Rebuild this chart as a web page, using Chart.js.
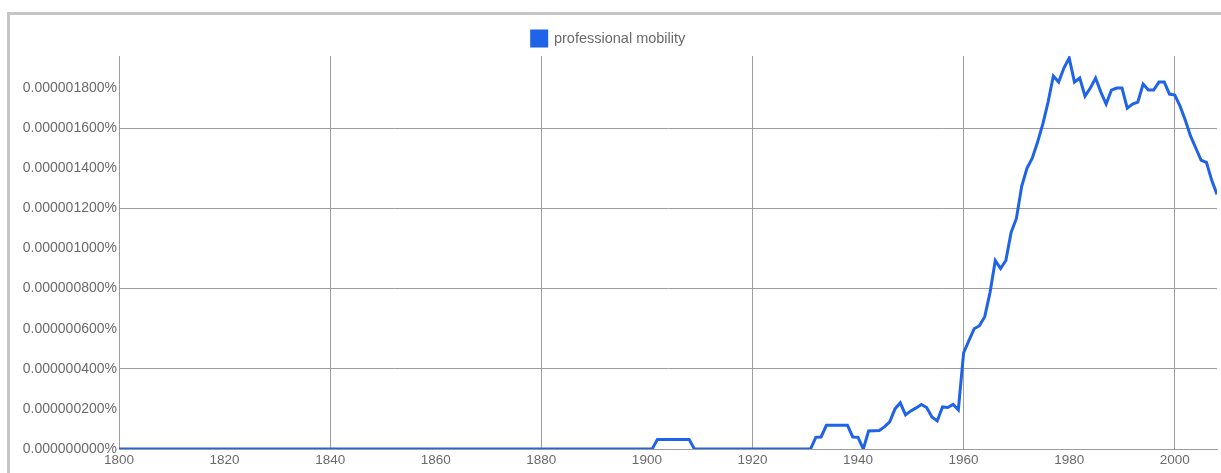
<!DOCTYPE html>
<html>
<head>
<meta charset="utf-8">
<script src="https://cdn.jsdelivr.net/npm/chart.js@4.4.1/dist/chart.umd.min.js"></script>
<style>
  html, body { margin: 0; padding: 0; background: #fff; }
  #wrap { position: relative; width: 1221px; height: 473px; overflow: hidden; }
  #frame {
    position: absolute; left: 7px; top: 12px; right: 0; bottom: 0;
    border-top: 3px solid #c6c6c6; border-left: 3px solid #c6c6c6;
  }
  #chart { position: absolute; left: 0; top: 0; }
</style>
</head>
<body>
<div id="wrap">
  <div id="frame"></div>
  <canvas id="chart" width="1221" height="473"></canvas>
</div>
<script>
// ================================
// DATA (values in millionths of a percent)
// ================================
const SERIES_LABEL = 'professional mobility';

const years = [
  1800, 1901, 1902, 1908, 1909, 1931, 1932, 1933, 1934, 1938,
  1939, 1940, 1941, 1942, 1944, 1945, 1946, 1947, 1948, 1949,
  1950, 1951, 1952, 1953, 1954, 1955, 1956, 1957, 1958, 1959,
  1960, 1961, 1962, 1963, 1964, 1965, 1966, 1967, 1968, 1969,
  1970, 1971, 1972, 1973, 1974, 1975, 1976, 1977, 1978, 1979,
  1980, 1981, 1982, 1983, 1984, 1985, 1986, 1987, 1988, 1989,
  1990, 1991, 1992, 1993, 1994, 1995, 1996, 1997, 1998, 1999,
  2000, 2001, 2002, 2003, 2004, 2005, 2006, 2007, 2008
];

const values = [
  0, 0, 0.048, 0.048, 0, 0, 0.058, 0.06, 0.118, 0.118,
  0.06, 0.058, 0, 0.09, 0.092, 0.11, 0.135, 0.2, 0.23, 0.17,
  0.19, 0.205, 0.222, 0.207, 0.16, 0.14, 0.21, 0.207, 0.222, 0.195,
  0.48, 0.54, 0.6, 0.615, 0.66, 0.78, 0.94, 0.9, 0.94, 1.08,
  1.15, 1.31, 1.4, 1.45, 1.53, 1.62, 1.73, 1.86, 1.83, 1.9,
  1.95, 1.83, 1.85, 1.76, 1.8, 1.85, 1.78, 1.72, 1.79, 1.8,
  1.8, 1.7, 1.72, 1.73, 1.82, 1.79, 1.79, 1.83, 1.83, 1.77,
  1.765, 1.71, 1.64, 1.56, 1.5, 1.44, 1.43, 1.34, 1.27
];

// axis ranges / tick steps
const X_MIN = 1800, X_MAX = 2008, X_STEP = 20, X_GRID_EVERY = 40;
const Y_MIN = 0, Y_MAX = 1.96, Y_STEP = 0.2;

// ================================
// STYLE
// ================================
const LINE_COLOR = '#1f63e6';
const GRID_COLOR = '#9c9c9c';
const TEXT_COLOR = '#6a6a6a';
const FONT = "'Liberation Sans', Arial, sans-serif";

const formatPercent = (v) => (v * 1e-6).toFixed(9) + '%';

// ================================
// CHART
// ================================
const points = years.map((yr, i) => ({ x: yr, y: values[i] }));

new Chart(document.getElementById('chart'), {
  type: 'line',
  data: {
    datasets: [{
      label: SERIES_LABEL,
      data: points,
      borderColor: LINE_COLOR,
      backgroundColor: LINE_COLOR,
      borderWidth: 3,
      pointRadius: 0,
      tension: 0,
      fill: false
    }]
  },
  options: {
    responsive: false,
    animation: false,
    layout: { padding: { top: 22, left: 0, right: 4, bottom: 0 } },
    plugins: {
      tooltip: { enabled: false },
      legend: {
        position: 'top',
        labels: {
          boxWidth: 15,
          boxHeight: 15,
          padding: 9,
          color: TEXT_COLOR,
          font: { family: FONT, size: 14.5 }
        }
      }
    },
    scales: {
      x: {
        type: 'linear',
        min: X_MIN,
        max: X_MAX,
        afterFit: (scale) => { scale.height = 24; },
        ticks: {
          stepSize: X_STEP,
          includeBounds: false,
          padding: 3,
          maxRotation: 0,
          color: TEXT_COLOR,
          font: { family: FONT, size: 13.5 },
          callback: (v) => String(v)
        },
        grid: {
          drawTicks: false,
          color: (ctx) => (ctx.tick && ctx.tick.value % X_GRID_EVERY === 0) ? GRID_COLOR : 'rgba(0,0,0,0)'
        },
        border: { display: true, color: GRID_COLOR }
      },
      y: {
        min: Y_MIN,
        max: Y_MAX,
        afterFit: (scale) => { scale.width = 119; },
        ticks: {
          stepSize: Y_STEP,
          includeBounds: false,
          padding: 2,
          color: TEXT_COLOR,
          font: { family: FONT, size: 14 },
          callback: (v) => formatPercent(v)
        },
        grid: {
          drawTicks: false,
          color: (ctx) => {
            const v = ctx.tick ? ctx.tick.value : 0;
            return Math.round(v * 10) % 4 === 0 ? GRID_COLOR : 'rgba(0,0,0,0)';
          }
        },
        border: { display: true, color: GRID_COLOR }
      }
    }
  }
});
</script>
</body>
</html>
